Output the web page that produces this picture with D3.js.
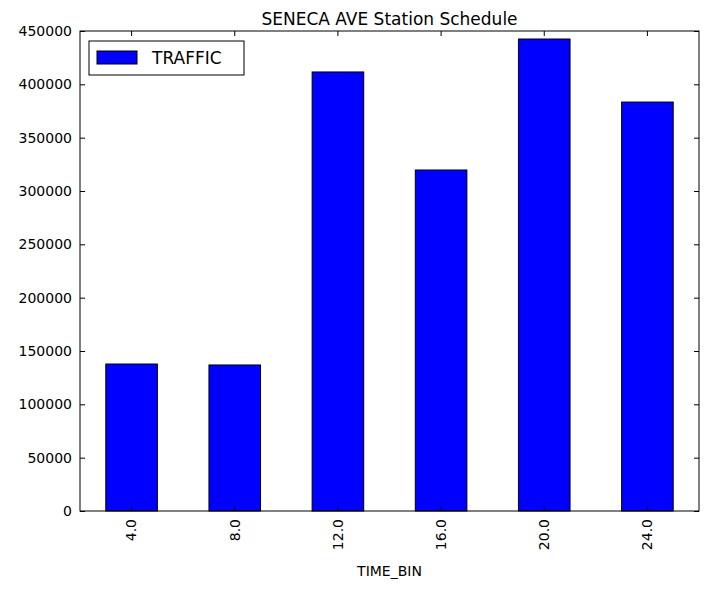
<!DOCTYPE html>
<html><head><meta charset="utf-8">
<script src="https://cdn.jsdelivr.net/npm/d3@7"></script>
<style>body{margin:0;background:#fff}text{font-family:"DejaVu Sans",sans-serif}</style>
</head><body><svg id="chart" width="709" height="589"></svg>
<script>
const timeBins = ["4.0", "8.0", "12.0", "16.0", "20.0", "24.0"];
const traffic = [137800, 136900, 411600, 319700, 442500, 383400];
const yTicks = [0, 50000, 100000, 150000, 200000, 250000, 300000, 350000, 400000, 450000];

const svg = d3.select("#chart");
const margin = {top: 31, right: 10, bottom: 78, left: 80};
const width = 709 - margin.left - margin.right;
const height = 589 - margin.top - margin.bottom;
const g = svg.append("g").attr("transform", `translate(${margin.left},${margin.top})`);

const x = d3.scaleBand().domain(timeBins).range([0, width]).paddingInner(0.5).paddingOuter(0.25);
const y = d3.scaleLinear().domain([0, 450000]).range([height, 0]);

g.selectAll("rect.bar").data(traffic).enter().append("rect")
    .attr("class", "bar")
    .attr("x", (d, i) => x(timeBins[i]))
    .attr("y", d => y(d))
    .attr("width", x.bandwidth())
    .attr("height", d => height - y(d))
    .attr("fill", "#0000ff").attr("stroke", "#000").attr("stroke-width", 1);

// axes with inward ticks (classic style)
const yAxis = g.append("g").call(d3.axisLeft(y).tickValues(yTicks).tickSize(-5).tickPadding(8).tickFormat(d3.format("d")));
const yAxisR = g.append("g").attr("transform", `translate(${width},0)`).call(d3.axisRight(y).tickValues(yTicks).tickSize(-5).tickFormat(""));
const xAxis = g.append("g").attr("transform", `translate(0,${height})`).call(d3.axisBottom(x).tickSize(-5).tickPadding(8));
const xAxisT = g.append("g").call(d3.axisTop(x).tickSize(-5).tickFormat(""));
[yAxis, yAxisR, xAxis, xAxisT].forEach(a => { a.select(".domain").remove(); a.selectAll("text").style("font-size", "14px").attr("fill", "#000"); });
xAxis.selectAll("text").attr("transform", "rotate(-90)").attr("text-anchor", "end")
    .attr("x", -8).attr("y", 0).attr("dy", "0.35em");

g.append("rect").attr("width", width).attr("height", height).attr("fill", "none").attr("stroke", "#000");

svg.append("text").attr("x", margin.left + width / 2).attr("y", 25).attr("text-anchor", "middle")
    .style("font-size", "17px").text("SENECA AVE Station Schedule");
svg.append("text").attr("x", margin.left + width / 2).attr("y", 576).attr("text-anchor", "middle")
    .style("font-size", "14px").text("TIME_BIN");

// legend
const lg = svg.append("g").attr("transform", "translate(89,41)");
lg.append("rect").attr("width", 155).attr("height", 34).attr("fill", "#fff").attr("stroke", "#000");
lg.append("rect").attr("x", 8).attr("y", 10).attr("width", 40).attr("height", 13).attr("fill", "#0000ff").attr("stroke", "#000");
lg.append("text").attr("x", 63).attr("y", 23).style("font-size", "17px").text("TRAFFIC");
</script></body></html>
